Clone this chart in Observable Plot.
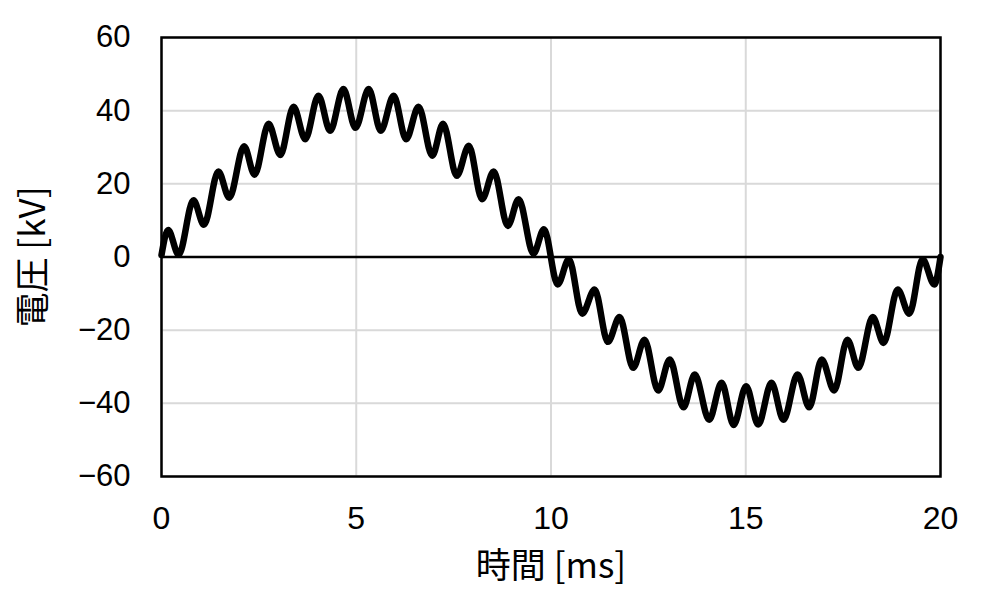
<!DOCTYPE html>
<html>
<head>
<meta charset="utf-8">
<script src="https://cdn.jsdelivr.net/npm/d3@7"></script>
<script src="https://cdn.jsdelivr.net/npm/@observablehq/plot@0.6"></script>
<style>
  html, body { margin: 0; padding: 0; background: #fff; }
  #chart svg { display: block; }
</style>
</head>
<body>
<div id="chart"></div>
<script>
// Time [ms] of each read-off point (peaks and troughs of the waveform)
const timeMs = [
  0, 0.17, 0.44, 0.82, 1.09, 1.46, 1.74, 2.12, 2.39, 2.75, 3.05, 3.39, 3.69, 4.03, 4.33, 4.67,
  4.98, 5.32, 5.63, 5.96, 6.28, 6.60, 6.95, 7.23, 7.58, 7.89, 8.23, 8.53, 8.89, 9.17, 9.55, 9.82,
  10.17, 10.46, 10.80, 11.12, 11.46, 11.76, 12.11, 12.40, 12.75, 13.05, 13.40, 13.69, 14.06, 14.38,
  14.69, 15.01, 15.32, 15.66, 15.97, 16.33, 16.63, 16.95, 17.27, 17.61, 17.89, 18.26, 18.54, 18.90,
  19.20, 19.54, 19.84, 20
];
// Voltage [kV] at those points
const voltageKV = [
  0.5, 7.4, 0.6, 15.5, 8.8, 23.4, 16.2, 30.3, 22.5, 36.4, 27.9, 41.1, 32.2, 44.1, 34.5, 45.9,
  35.3, 45.9, 34.5, 44.1, 32.2, 41.1, 27.7, 36.4, 22.2, 30.4, 15.8, 23.4, 8.5, 15.8, 0.9, 7.6,
  -7.5, -0.6, -15.5, -8.9, -23.2, -16.4, -30.3, -22.6, -36.5, -28.0, -41.1, -32.1, -44.5, -34.4,
  -45.9, -35.3, -45.8, -34.4, -44.5, -32.1, -41.1, -28.0, -36.5, -22.6, -30.3, -16.4, -23.5, -8.9,
  -15.5, -0.6, -7.5, 0
];
const xTicks = [0, 5, 10, 15, 20];
const yTicks = [-60, -40, -20, 0, 20, 40, 60];
const xTitle = "時間 [ms]";
const yTitle = "電圧 [kV]";

const data = timeMs.map((t, i) => ({t, v: voltageKV[i]}));
const fmt = d => d < 0 ? "\u2212" + (-d) : String(d);

const chart = Plot.plot({
  width: 1000,
  height: 591,
  marginLeft: 161,
  marginRight: 60,
  marginTop: 37,
  marginBottom: 115,
  style: {fontFamily: "'Liberation Sans', Arial, sans-serif", background: "#fff", color: "#000"},
  x: {domain: [0, 20]},
  y: {domain: [-60, 60]},
  marks: [
    Plot.gridX(xTicks, {stroke: "#d9d9d9", strokeOpacity: 1, strokeWidth: 2}),
    Plot.gridY(yTicks, {stroke: "#d9d9d9", strokeOpacity: 1, strokeWidth: 2}),
    Plot.ruleY([0], {stroke: "#000", strokeWidth: 2.5}),
    Plot.line(data, {x: "t", y: "v", curve: "monotone-x", stroke: "#000", strokeWidth: 6.5, strokeLinejoin: "round"}),
    Plot.frame({stroke: "#000", strokeWidth: 2.5}),
    Plot.axisX(xTicks, {tickSize: 0, tickPadding: 30, fontSize: 32, tickFormat: fmt,
      label: xTitle, labelAnchor: "center", labelOffset: 101, labelArrow: "none"}),
    Plot.axisY(yTicks, {tickSize: 0, tickPadding: 31, fontSize: 31, tickFormat: fmt,
      label: yTitle, labelAnchor: "center", labelOffset: 141, labelArrow: "none"})
  ]
});
document.getElementById("chart").appendChild(chart);

// Style the axis titles (CJK font)
d3.select(chart).selectAll('[aria-label="x-axis label"] text, [aria-label="y-axis label"] text')
  .style("font-family", "'Noto Sans CJK JP', sans-serif")
  .style("font-size", "35px");
</script>
</body>
</html>
